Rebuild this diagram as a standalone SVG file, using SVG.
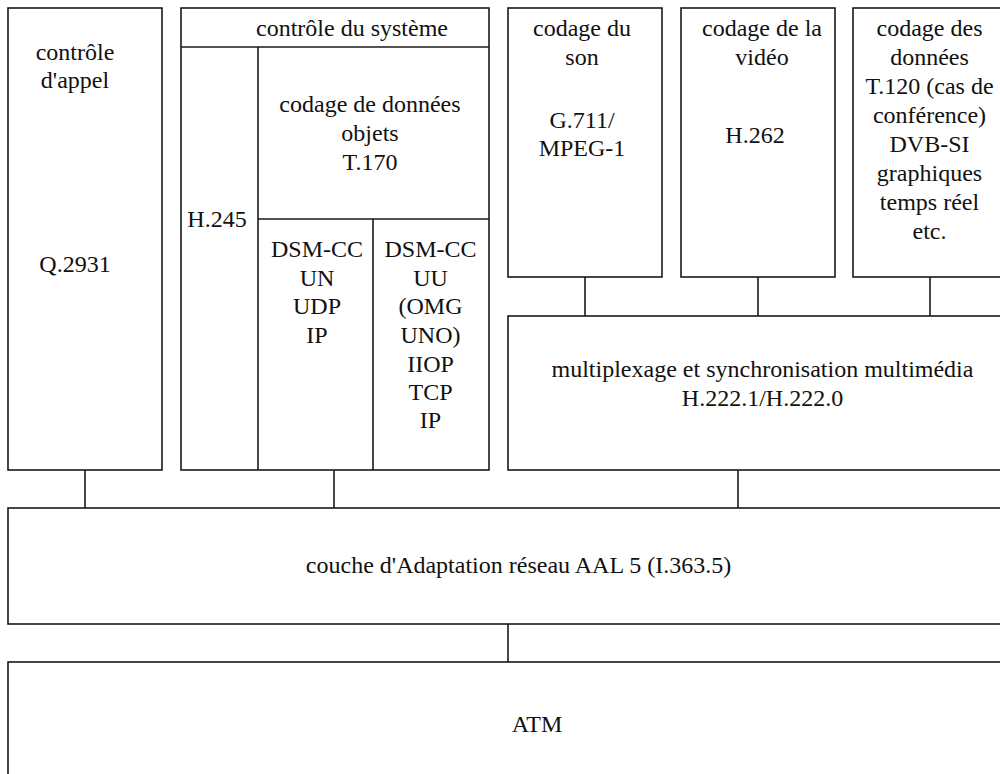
<svg xmlns="http://www.w3.org/2000/svg" width="1000" height="774" viewBox="0 0 1000 774">
<style>
.b{fill:#fff;stroke:#1a1a1a;stroke-width:1.6}
.l{fill:none;stroke:#1a1a1a;stroke-width:1.6}
.t{font-family:'Liberation Serif','Times New Roman',Times,'DejaVu Serif',serif;font-size:24px;fill:#111;text-anchor:middle}
</style>
<rect x="0" y="0" width="1000" height="774" fill="#fff"/>
<g id="connectors">
<line class="l" x1="585" y1="277" x2="585" y2="316"/>
<line class="l" x1="758" y1="277" x2="758" y2="316"/>
<line class="l" x1="930" y1="277" x2="930" y2="316"/>
<line class="l" x1="85" y1="470" x2="85" y2="508"/>
<line class="l" x1="334" y1="470" x2="334" y2="508"/>
<line class="l" x1="738" y1="470" x2="738" y2="508"/>
<line class="l" x1="508" y1="624" x2="508" y2="662"/>
</g>
<g class="t" font-family="Liberation Serif, serif">
<g id="call-control">
<rect class="b" x="8" y="8" width="154" height="462"/>
<text x="75" y="60">contrôle</text>
<text x="75" y="88">d'appel</text>
<text x="75" y="272">Q.2931</text>
</g>
<g id="system-control">
<rect class="b" x="181" y="8" width="308" height="462"/>
<line class="l" x1="181" y1="47" x2="489" y2="47"/>
<line class="l" x1="258" y1="47" x2="258" y2="470"/>
<line class="l" x1="258" y1="219" x2="489" y2="219"/>
<line class="l" x1="373" y1="219" x2="373" y2="470"/>
<text x="352" y="36">contrôle du système</text>
<text x="217" y="227">H.245</text>
</g>
<g id="object-data">
<text x="370" y="112">codage de données</text>
<text x="370" y="141">objets</text>
<text x="370" y="170">T.170</text>
</g>
<g id="dsmcc-un">
<text x="317" y="257">DSM-CC</text>
<text x="317" y="286">UN</text>
<text x="317" y="314">UDP</text>
<text x="317" y="343">IP</text>
</g>
<g id="dsmcc-uu">
<text x="430.5" y="257">DSM-CC</text>
<text x="430.5" y="286">UU</text>
<text x="430.5" y="314">(OMG</text>
<text x="430.5" y="343">UNO)</text>
<text x="430.5" y="372">IIOP</text>
<text x="430.5" y="400">TCP</text>
<text x="430.5" y="428">IP</text>
</g>
<g id="audio">
<rect class="b" x="508" y="8" width="154" height="269"/>
<text x="582" y="36">codage du</text>
<text x="582" y="65">son</text>
<text x="582" y="128">G.711/</text>
<text x="582" y="156">MPEG-1</text>
</g>
<g id="video">
<rect class="b" x="681" y="8" width="154" height="269"/>
<text x="762" y="36">codage de la</text>
<text x="762" y="65">vidéo</text>
<text x="755" y="143">H.262</text>
</g>
<g id="data">
<rect class="b" x="853" y="8" width="160" height="269"/>
<text x="929.5" y="36">codage des</text>
<text x="929.5" y="65">données</text>
<text x="929.5" y="94">T.120 (cas de</text>
<text x="929.5" y="123">conférence)</text>
<text x="929.5" y="152">DVB-SI</text>
<text x="929.5" y="181">graphiques</text>
<text x="929.5" y="210">temps réel</text>
<text x="929.5" y="239">etc.</text>
</g>
<g id="mux">
<rect class="b" x="508" y="316" width="505" height="154"/>
<text x="762.5" y="377">multiplexage et synchronisation multimédia</text>
<text x="762.5" y="406">H.222.1/H.222.0</text>
</g>
<g id="aal">
<rect class="b" x="8" y="508" width="1005" height="116"/>
<text x="518.5" y="573">couche d'Adaptation réseau AAL 5 (I.363.5)</text>
</g>
<g id="atm">
<rect class="b" x="8" y="662" width="1005" height="125"/>
<text x="537" y="732">ATM</text>
</g>
</g>
</svg>
